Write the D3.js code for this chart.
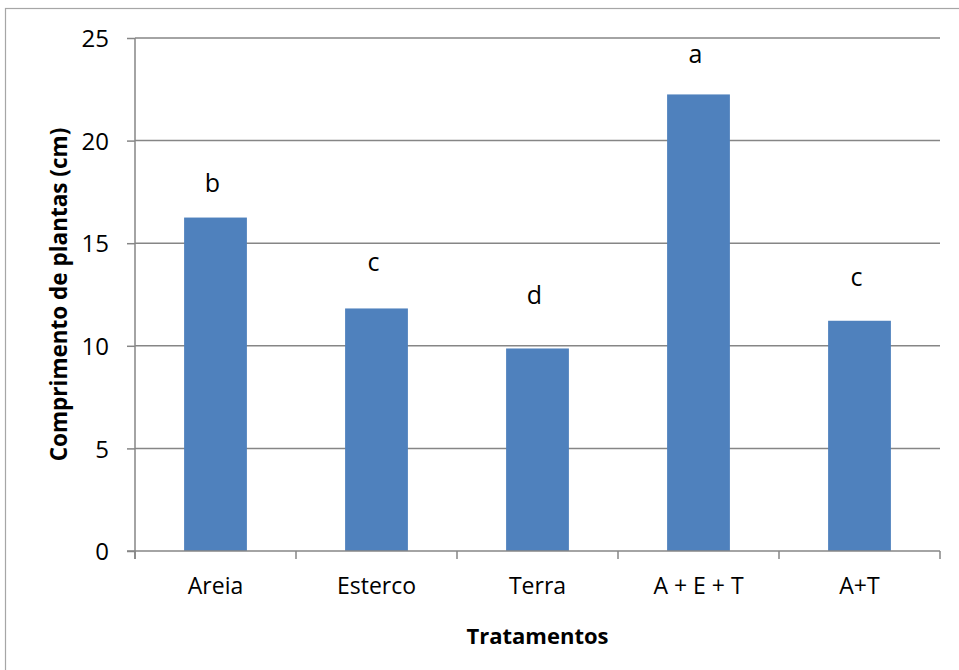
<!DOCTYPE html>
<html>
<head>
<meta charset="utf-8">
<script src="https://cdn.jsdelivr.net/npm/d3@7"></script>
<style>
  body { margin: 0; background: #fff; }
  svg text { font-family: "Open Sans", "Noto Sans", sans-serif; fill: #000; }
</style>
</head>
<body>
<div id="chart"></div>
<script>
const categories = ["Areia", "Esterco", "Terra", "A + E + T", "A+T"];
const values = [16.25, 11.82, 9.87, 22.25, 11.22];
const letters = ["b", "c", "d", "a", "c"];
const letterAt = [17.5, 13.65, 12.05, 23.8, 12.9];
const yTicks = [0, 5, 10, 15, 20, 25];

const width = 959, height = 670;
const margin = { top: 38, right: 19, bottom: 119, left: 135 };
const plotW = width - margin.left - margin.right;
const plotH = height - margin.top - margin.bottom;

const svg = d3.select('#chart')
  .append('svg')
  .attr('width', width)
  .attr('height', height);

// outer chart border
svg.append('rect')
  .attr('x', 5.5)
  .attr('y', 8.5)
  .attr('width', width + 10)
  .attr('height', height + 10)
  .attr('fill', 'none')
  .attr('stroke', '#a6a6a6')
  .attr('stroke-width', 1.2);

const g = svg.append('g')
  .attr('transform', `translate(${margin.left},${margin.top})`);

const x = d3.scaleBand()
  .domain(categories)
  .range([0, plotW])
  .paddingInner(0.61)
  .paddingOuter(0.305);

const y = d3.scaleLinear()
  .domain([0, 25])
  .range([plotH, 0]);

// gridlines + y axis
const yAxis = g.append('g')
  .call(d3.axisLeft(y).tickValues(yTicks).tickSize(8).tickPadding(18).tickFormat(d3.format('d')));
yAxis.select('.domain').remove();
yAxis.selectAll('.tick line').attr('stroke', '#868686').attr('stroke-width', 1.5);
yAxis.selectAll('.tick text').style('font-size', '24px').attr('dy', '0.36em');

g.append('g')
  .selectAll('line')
  .data(yTicks.filter(d => d > 0))
  .enter().append('line')
  .attr('x1', 0)
  .attr('x2', plotW)
  .attr('y1', d => y(d))
  .attr('y2', d => y(d))
  .attr('stroke', '#868686')
  .attr('stroke-width', 1.5);

// bars
g.selectAll('.bar')
  .data(values)
  .enter().append('rect')
  .attr('class', 'bar')
  .attr('x', (d, i) => x(categories[i]))
  .attr('y', d => y(d))
  .attr('width', x.bandwidth())
  .attr('height', d => y(0) - y(d))
  .attr('fill', '#4f81bd');

// letters
g.selectAll('.letter')
  .data(letters)
  .enter().append('text')
  .attr('class', 'letter')
  .attr('x', (d, i) => x(categories[i]) + x.bandwidth() / 2 - 3)
  .attr('y', (d, i) => y(letterAt[i]))
  .attr('text-anchor', 'middle')
  .style('font-size', '25px')
  .text(d => d);

// axes lines
g.append('line')
  .attr('x1', 0).attr('x2', 0)
  .attr('y1', 0).attr('y2', plotH + 8)
  .attr('stroke', '#868686').attr('stroke-width', 1.5);

g.append('line')
  .attr('x1', -8).attr('x2', plotW)
  .attr('y1', plotH).attr('y2', plotH)
  .attr('stroke', '#868686').attr('stroke-width', 1.5);

// x boundary ticks
const step = x.step();
g.append('g')
  .selectAll('line')
  .data(d3.range(categories.length + 1))
  .enter().append('line')
  .attr('x1', i => i * step)
  .attr('x2', i => i * step)
  .attr('y1', plotH)
  .attr('y2', plotH + 8)
  .attr('stroke', '#868686')
  .attr('stroke-width', 1.5);

// x labels
const xAxis = g.append('g')
  .attr('transform', `translate(0,${plotH})`)
  .call(d3.axisBottom(x).tickSize(0).tickPadding(0));
xAxis.select('.domain').remove();
xAxis.selectAll('.tick text')
  .attr('dy', null)
  .attr('y', 43)
  .style('font-size', '23px');

// axis titles
svg.append('text')
  .attr('x', margin.left + plotW / 2)
  .attr('y', 644)
  .attr('text-anchor', 'middle')
  .style('font-size', '22px')
  .style('font-weight', 'bold')
  .text('Tratamentos');

svg.append('text')
  .attr('transform', `translate(67,${margin.top + plotH / 2}) rotate(-90)`)
  .attr('text-anchor', 'middle')
  .style('font-size', '22.5px')
  .style('font-weight', 'bold')
  .text('Comprimento de plantas (cm)');
</script>
</body>
</html>
